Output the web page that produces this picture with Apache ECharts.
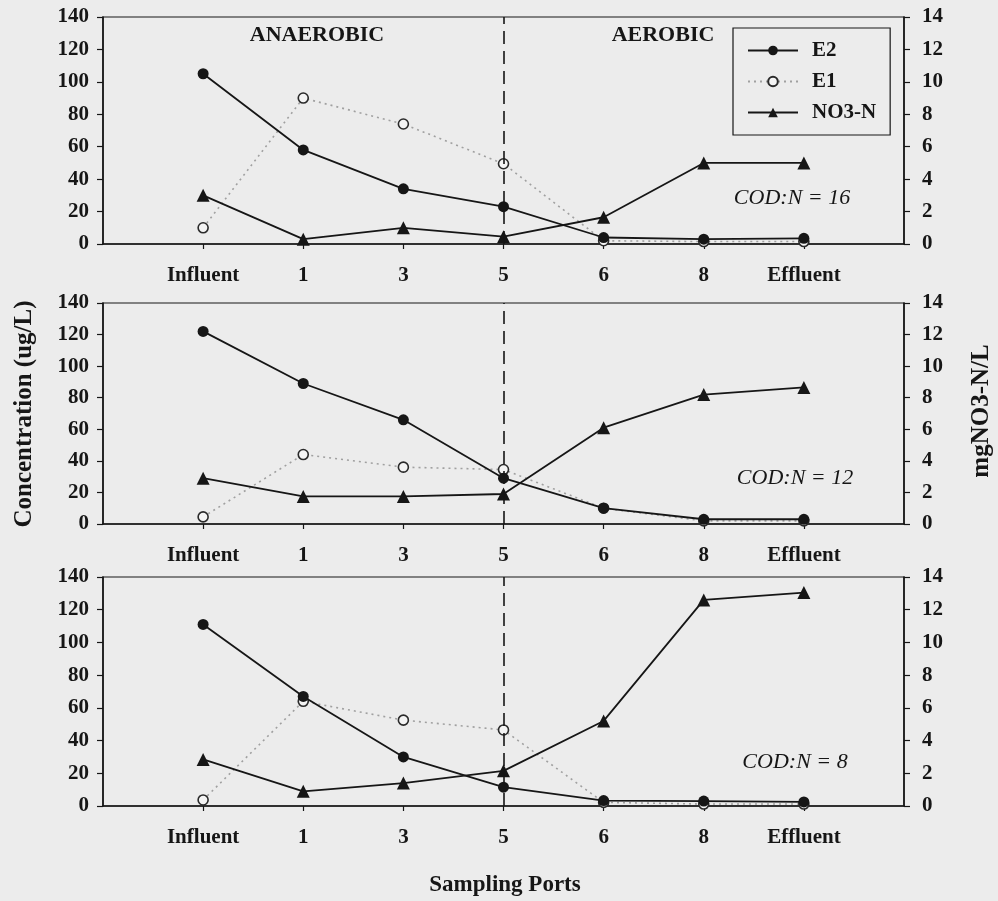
<!DOCTYPE html>
<html>
<head>
<meta charset="utf-8">
<script src="https://cdn.jsdelivr.net/npm/echarts@6/dist/echarts.min.js"></script>
<style>
  html, body { margin: 0; padding: 0; background: #ececec; }
  #chart { width: 998px; height: 901px; }
</style>
</head>
<body>
<div id="chart"></div>
<script>
// Sampling ports along the reactor
const ports = ['Influent', '1', '3', '5', '6', '8', 'Effluent'];

// COD:N = 16
const e2_16 = [105, 58, 34, 23, 4, 3, 3.5];
const e1_16 = [10, 90, 74, 49.5, 2, 1.5, 1.5];
const no3_16 = [3.0, 0.3, 1.0, 0.45, 1.65, 5.0, 5.0];

// COD:N = 12
const e2_12 = [122, 89, 66, 29, 10, 3, 3];
const e1_12 = [4.5, 44, 36, 34.5, 10, 2, 2];
const no3_12 = [2.9, 1.75, 1.75, 1.9, 6.1, 8.2, 8.65];

// COD:N = 8
const e2_8 = [111, 67, 30, 11.5, 3.3, 3, 2.5];
const e1_8 = [3.7, 64, 52.5, 46.5, 2.2, 1.2, 1.2];
const no3_8 = [2.85, 0.9, 1.4, 2.15, 5.2, 12.6, 13.05];

// left-axis (ug/L) and right-axis (mg/L) ticks
const leftTicks = [0, 20, 40, 60, 80, 100, 120, 140];
const rightTicks = [0, 2, 4, 6, 8, 10, 12, 14];

const panels = [
  { e2: e2_16, e1: e1_16, no3: no3_16, label: 'COD:N = 16' },
  { e2: e2_12, e1: e1_12, no3: no3_12, label: 'COD:N = 12' },
  { e2: e2_8,  e1: e1_8,  no3: no3_8,  label: 'COD:N = 8' }
];

const SERIF = "'Liberation Serif', 'Times New Roman', serif";
const INK = '#161616';
const boldTxt = (size) => ({ fontFamily: SERIF, fontWeight: 'bold', fontSize: size, color: INK });

const gridBoxes = [
  { top: 17, height: 227 },
  { top: 303, height: 221 },
  { top: 577, height: 229 }
];

// category slots with an empty slot at each end of the axis
const xCats = [''].concat(ports, ['']);
const toPairs = (arr) => arr.map((v, i) => [i + 1, v]);

const grids = [], xAxes = [], yAxes = [], series = [];

gridBoxes.forEach((g, k) => {
  grids.push({
    left: 103, width: 801, top: g.top, height: g.height,
    show: true, borderColor: INK, borderWidth: 1.2, backgroundColor: 'transparent'
  });
  xAxes.push({
    type: 'category', gridIndex: k, data: xCats, boundaryGap: false,
    axisLine: { lineStyle: { color: INK, width: 1.6 } },
    axisTick: { show: true, length: 5, lineStyle: { color: INK, width: 1.2 },
                interval: (idx) => idx > 0 && idx < xCats.length - 1 },
    axisLabel: Object.assign({ interval: 0, margin: 21 }, boldTxt(21)),
    splitLine: { show: false }
  });
  yAxes.push({
    type: 'value', gridIndex: k, position: 'left',
    min: leftTicks[0], max: leftTicks[leftTicks.length - 1], interval: leftTicks[1] - leftTicks[0],
    axisLine: { show: true, lineStyle: { color: INK, width: 1.6 } },
    axisTick: { show: true, length: 6, lineStyle: { color: INK, width: 1.2 } },
    axisLabel: Object.assign({ margin: 14 }, boldTxt(21)),
    splitLine: { show: false }
  });
  yAxes.push({
    type: 'value', gridIndex: k, position: 'right',
    min: rightTicks[0], max: rightTicks[rightTicks.length - 1], interval: rightTicks[1] - rightTicks[0],
    axisLine: { show: true, lineStyle: { color: INK, width: 1.6 } },
    axisTick: { show: true, length: 6, lineStyle: { color: INK, width: 1.2 } },
    axisLabel: Object.assign({ margin: 18 }, boldTxt(21)),
    splitLine: { show: false }
  });

  const p = panels[k];
  series.push({
    name: 'E1', type: 'line', xAxisIndex: k, yAxisIndex: 2 * k,
    data: toPairs(p.e1), z: 2,
    symbol: 'circle', symbolSize: 10,
    lineStyle: { color: '#a0a0a0', width: 1.6, type: [2, 4] },
    itemStyle: { color: '#f4f4f4', borderColor: '#2a2a2a', borderWidth: 1.6 }
  });
  series.push({
    name: 'E2', type: 'line', xAxisIndex: k, yAxisIndex: 2 * k,
    data: toPairs(p.e2), z: 3,
    symbol: 'circle', symbolSize: 11,
    lineStyle: { color: INK, width: 1.8 },
    itemStyle: { color: INK, borderColor: INK, borderWidth: 0 },
    markLine: {
      silent: true, symbol: 'none', label: { show: false },
      lineStyle: { color: INK, width: 1.6, type: [13, 7] },
      data: [{ xAxis: 4 }]
    }
  });
  series.push({
    name: 'NO3-N', type: 'line', xAxisIndex: k, yAxisIndex: 2 * k + 1,
    data: toPairs(p.no3), z: 3,
    symbol: 'triangle', symbolSize: 13,
    lineStyle: { color: INK, width: 1.8 },
    itemStyle: { color: INK, borderColor: INK, borderWidth: 0 }
  });
});

const txt = (x, y, text, font, rot) => ({
  type: 'text', x: x, y: y, rotation: rot || 0, z: 10,
  style: { text: text, font: font, fill: INK, align: 'center', verticalAlign: 'middle' }
});

const graphics = [
  txt(25, 414, 'Concentration (ug/L)', "bold 25px 'Liberation Serif'", Math.PI / 2),
  txt(982, 411, 'mgNO3-N/L', "bold 25px 'Liberation Serif'", Math.PI / 2),
  txt(505, 885, 'Sampling Ports', "bold 23px 'Liberation Serif'"),
  txt(317, 35, 'ANAEROBIC', "bold 22px 'Liberation Serif'"),
  txt(663, 35, 'AEROBIC', "bold 22px 'Liberation Serif'"),
  txt(792, 198, panels[0].label, "italic 22px 'Liberation Serif'"),
  txt(795, 478, panels[1].label, "italic 22px 'Liberation Serif'"),
  txt(795, 762, panels[2].label, "italic 22px 'Liberation Serif'")
];

const chart = echarts.init(document.getElementById('chart'), null, { renderer: 'canvas' });
chart.setOption({
  animation: false,
  backgroundColor: '#ececec',
  grid: grids,
  xAxis: xAxes,
  yAxis: yAxes,
  legend: {
    data: ['E2', 'E1', 'NO3-N'],
    orient: 'vertical',
    left: 733, top: 28, width: 162, height: 114,
    padding: [12, 14, 12, 14],
    itemGap: 10, itemWidth: 50, itemHeight: 12,
    borderColor: INK, borderWidth: 1.2,
    backgroundColor: 'transparent',
    textStyle: Object.assign({ padding: [0, 0, 0, 9] }, boldTxt(21))
  },
  graphic: graphics,
  series: series
});
</script>
</body>
</html>
